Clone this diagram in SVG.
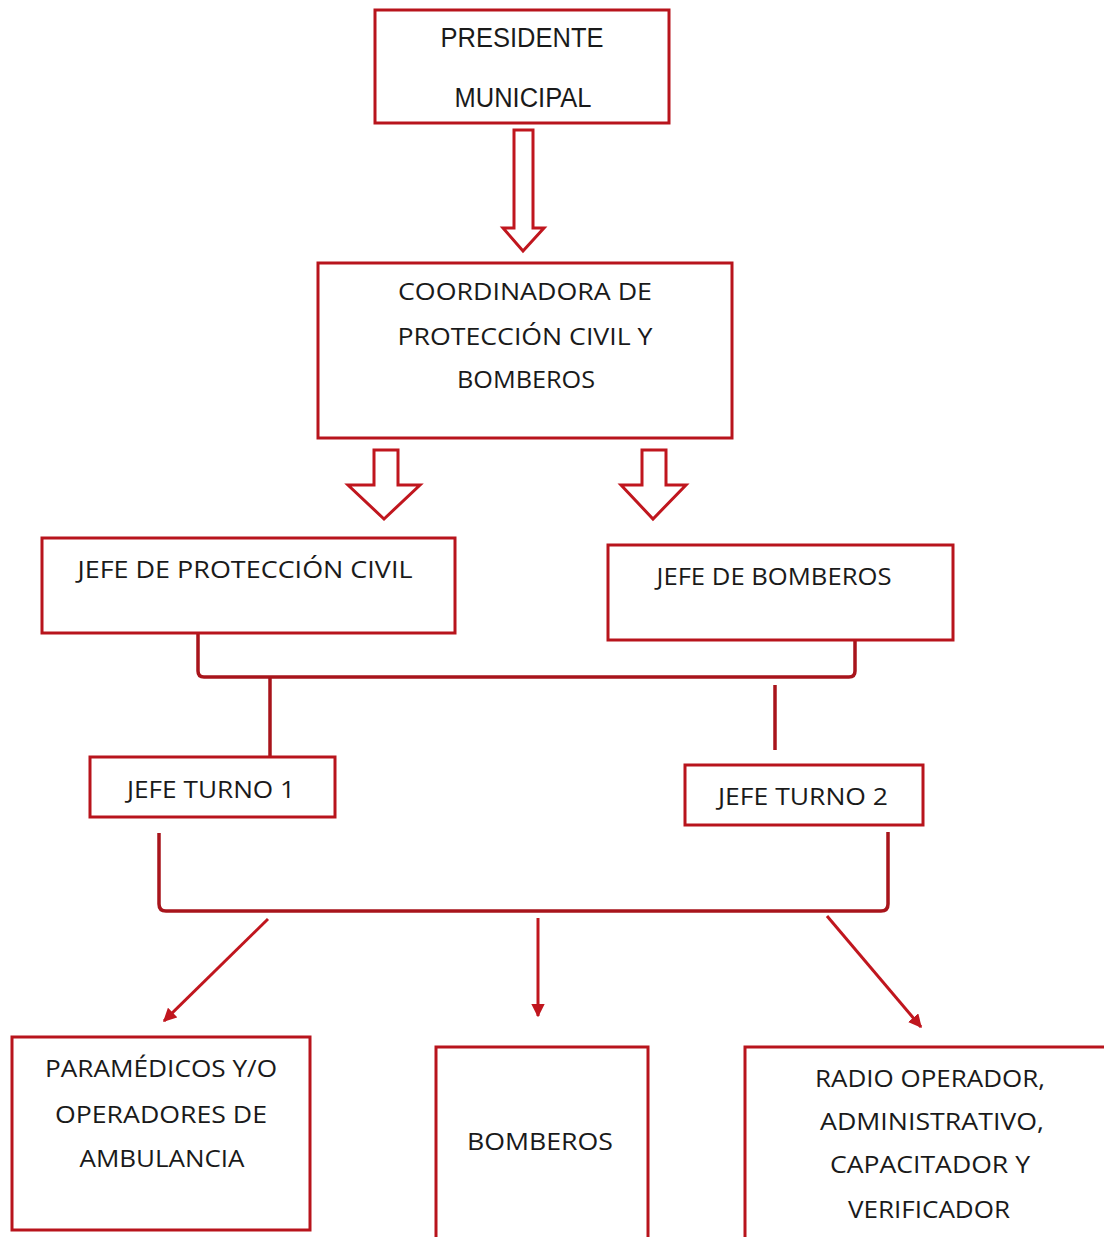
<svg xmlns="http://www.w3.org/2000/svg" width="1104" height="1237" viewBox="0 0 1104 1237">
<style>
.box{fill:#ffffff;stroke:#b8141c;stroke-width:3}
.blk{fill:#ffffff;stroke:#c0161e;stroke-width:3;stroke-linejoin:miter}
.ln{fill:none;stroke:#a8141b;stroke-width:3.5;stroke-linecap:butt}
.ar{fill:none;stroke:#c0161e;stroke-width:3}
.t{font-family:"Open Sans","Noto Sans","DejaVu Sans",sans-serif;font-size:24px;fill:#1a1a1a;text-anchor:middle}
.ta{font-family:"Liberation Sans",Arial,sans-serif;font-size:27px;fill:#1a1a1a;text-anchor:middle}
</style>
<defs>
<marker id="ah" viewBox="0 0 10 10" refX="9" refY="5" markerWidth="4.5" markerHeight="4.5" markerUnits="strokeWidth" orient="auto">
<path d="M0,0 L10,5 L0,10 z" fill="#c0161e"/>
</marker>
</defs>
<rect width="1104" height="1237" fill="#ffffff"/>
<g id="connectors">
<polygon class="blk" points="514,130 533,130 533,228 544,228 523,251 503,228 514,228"/>
<polygon class="blk" points="374,450 398,450 398,485 420,485 384,519 348,485 374,485"/>
<polygon class="blk" points="642,450 666,450 666,485 686,485 653,519 621,485 642,485"/>
<path class="ln" d="M198,633 V671 Q198,677 204,677 H849 Q855,677 855,671 V640"/>
<path class="ln" d="M270,677 V757"/>
<path class="ln" d="M775,685 V750"/>
<path class="ln" d="M159,833 V904 Q159,911 166,911 H881 Q888,911 888,904 V832"/>
<path class="ar" d="M268,919 L164,1021" marker-end="url(#ah)"/>
<path class="ar" d="M538,918 V1016" marker-end="url(#ah)"/>
<path class="ar" d="M827,916 L921,1027" marker-end="url(#ah)"/>
</g>
<g id="presidente">
<rect class="box" x="375" y="10" width="294" height="113"/>
<text class="ta" x="522" y="47" textLength="163" lengthAdjust="spacingAndGlyphs">PRESIDENTE</text>
<text class="ta" x="523" y="107" textLength="137" lengthAdjust="spacingAndGlyphs">MUNICIPAL</text>
</g>
<g id="coordinadora">
<rect class="box" x="318" y="263" width="414" height="175"/>
<text class="t" x="525" y="300" textLength="254" lengthAdjust="spacingAndGlyphs">COORDINADORA DE</text>
<text class="t" x="525" y="345" textLength="255" lengthAdjust="spacingAndGlyphs">PROTECCIÓN CIVIL Y</text>
<text class="t" x="526" y="388" textLength="138" lengthAdjust="spacingAndGlyphs">BOMBEROS</text>
</g>
<g id="jefe-pc">
<rect class="box" x="42" y="538" width="413" height="95"/>
<text class="t" x="245" y="578" textLength="335" lengthAdjust="spacingAndGlyphs">JEFE DE PROTECCIÓN CIVIL</text>
</g>
<g id="jefe-bomberos">
<rect class="box" x="608" y="545" width="345" height="95"/>
<text class="t" x="774" y="585" textLength="235" lengthAdjust="spacingAndGlyphs">JEFE DE BOMBEROS</text>
</g>
<g id="turno1">
<rect class="box" x="90" y="757" width="245" height="60"/>
<text class="t" x="211" y="798" textLength="168" lengthAdjust="spacingAndGlyphs">JEFE TURNO 1</text>
</g>
<g id="turno2">
<rect class="box" x="685" y="765" width="238" height="60"/>
<text class="t" x="803" y="805" textLength="170" lengthAdjust="spacingAndGlyphs">JEFE TURNO 2</text>
</g>
<g id="paramedicos">
<rect class="box" x="12" y="1037" width="298" height="193"/>
<text class="t" x="161" y="1077" textLength="232" lengthAdjust="spacingAndGlyphs">PARAMÉDICOS Y/O</text>
<text class="t" x="161" y="1123" textLength="212" lengthAdjust="spacingAndGlyphs">OPERADORES DE</text>
<text class="t" x="162" y="1167" textLength="165" lengthAdjust="spacingAndGlyphs">AMBULANCIA</text>
</g>
<g id="bomberos">
<rect class="box" x="436" y="1047" width="212" height="200"/>
<text class="t" x="540" y="1150" textLength="146" lengthAdjust="spacingAndGlyphs">BOMBEROS</text>
</g>
<g id="radio">
<rect class="box" x="745" y="1047" width="370" height="200"/>
<text class="t" x="930" y="1087" textLength="230" lengthAdjust="spacingAndGlyphs">RADIO OPERADOR,</text>
<text class="t" x="932" y="1130" textLength="224" lengthAdjust="spacingAndGlyphs">ADMINISTRATIVO,</text>
<text class="t" x="930" y="1173" textLength="200" lengthAdjust="spacingAndGlyphs">CAPACITADOR Y</text>
<text class="t" x="929" y="1218" textLength="162" lengthAdjust="spacingAndGlyphs">VERIFICADOR</text>
</g>
</svg>
